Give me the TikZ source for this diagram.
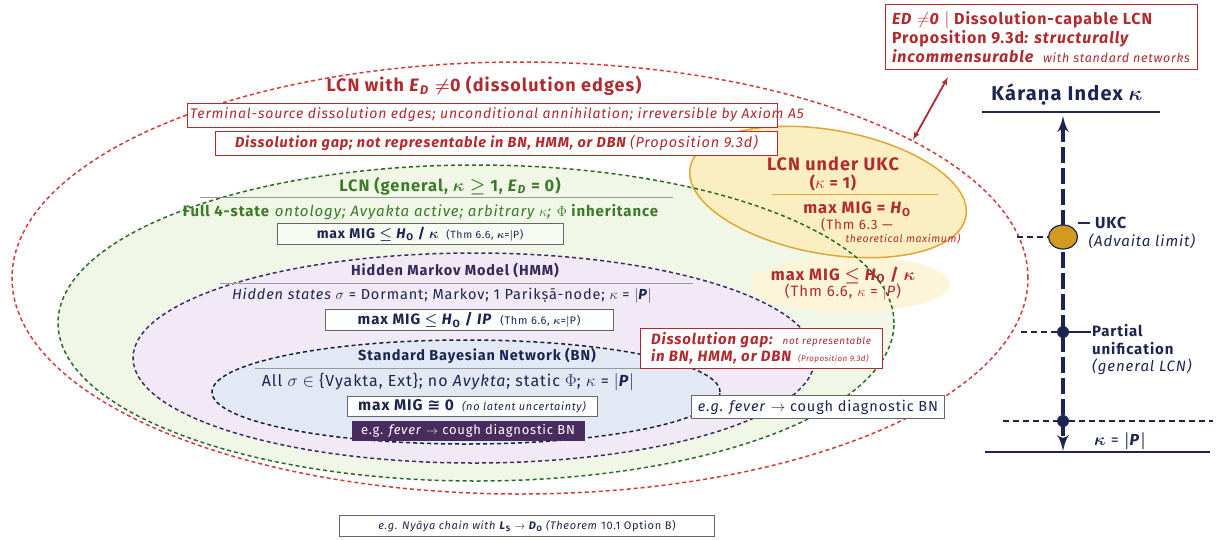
\documentclass[tikz,border=0pt]{standalone}
\usepackage{fontspec}
\setmainfont[LetterSpace=6]{Fira Sans}
\newfontfamily\symfont{DejaVu Sans}
\usetikzlibrary{shapes.geometric, arrows, positioning}

\definecolor{lcnred}{HTML}{B02A2E}
\definecolor{reddash}{HTML}{D23A3C}
\definecolor{lcngreen}{HTML}{3B7A2B}
\definecolor{greendash}{HTML}{2D6A2A}
\definecolor{greenfill}{HTML}{F1F7E6}
\definecolor{hmmfill}{HTML}{F1E9F5}
\definecolor{hmmdash}{HTML}{3E2A66}
\definecolor{hmmtext}{HTML}{33285A}
\definecolor{bnfill}{HTML}{E3E9F4}
\definecolor{navy}{HTML}{1C2552}
\definecolor{ukcfill}{HTML}{FBEFC2}
\definecolor{ukcedge}{HTML}{E2A632}
\definecolor{golddot}{HTML}{D49A1E}
\definecolor{exfill}{HTML}{4A2B5E}

\newcommand{\Hobs}{\textit{H}\textsubscript{O}}
\newcommand{\Edis}{\textit{E}\textsubscript{\textit{D}}}
\newcommand{\vbar}{$|$}
\newcommand{\fsz}[1]{\fontsize{#1}{#1}\selectfont}

\tikzstyle{big} = [font=\fsz{16}\bfseries\boldmath]
\tikzstyle{redbox} = [rectangle, draw=lcnred, line width=1pt, fill=white,
    text=lcnred, minimum height=24pt, inner xsep=6pt]
\tikzstyle{greybox} = [rectangle, draw=black!60, line width=1pt, fill=white,
    text=navy, minimum height=21pt, inner xsep=6pt, inner ysep=1pt]
\tikzstyle{rulestroke} = [draw=black!40, line width=0.8pt]
\tikzstyle{zone} = [dash pattern=on 4pt off 3pt, line width=1.5pt]
\tikzstyle{axis} = [draw=navy, line width=4.5pt, dash pattern=on 16pt off 5pt]
\tikzstyle{tick} = [draw=navy, line width=1.2pt, dash pattern=on 6pt off 4pt]
\tikzstyle{dot} = [circle, fill=navy, inner sep=0pt, minimum size=12pt]

\begin{document}
\begin{tikzpicture}[x=1pt, y=-1pt, node distance=17pt, auto]
\useasboundingbox (0,0) rectangle (1216,539);

\fill[greenfill] (476,323) ellipse [x radius=418pt, y radius=158pt];
\fill[hmmfill] (474,358) ellipse [x radius=341pt, y radius=105pt];
\fill[bnfill] (466,392) ellipse [x radius=254pt, y radius=52pt];
\fill[ukcfill!60] (850,284) ellipse [x radius=100pt, y radius=28pt];
\filldraw[fill=ukcfill, draw=ukcedge, line width=1.5pt, rotate around={-10:(828,192)}]
    (828,192) ellipse [x radius=140pt, y radius=62pt];

\draw[zone, reddash] (520,278) ellipse [x radius=508pt, y radius=216pt];
\draw[zone, greendash] (476,323) ellipse [x radius=418pt, y radius=158pt];
\draw[zone, hmmdash] (474,358) ellipse [x radius=341pt, y radius=105pt];
\draw[zone, navy!80!black] (466,392) ellipse [x radius=254pt, y radius=52pt];

\node [big, text=lcnred, font=\fsz{18}\bfseries\boldmath] (lcndis) at (484,86) {LCN with \Edis{} $\neq$0 (dissolution edges)};
\node [redbox, minimum width=590pt, anchor=west] (termbox) at (187,115) {};
\node [text=lcnred, font=\fsz{14}\itshape] (termtext) at (497,115)
    {Terminal-source dissolution edges; unconditional annihilation; irreversible by Axiom A5};
\node [redbox, minimum width=562pt, anchor=west, font=\fsz{14.5}\bfseries\itshape] (gapbox) at (215,143)
    {Dissolution gap; not representable in BN, HMM, or DBN {\mdseries(Proposition 9.3d)}};

\node [big, text=lcngreen, font=\fsz{16.5}\bfseries\boldmath] (lcngen) at (450,186) {LCN (general, $\kappa \geq$ 1, \Edis{} = 0)};
\path [rulestroke] (200,197) -- (673,197);
\node [text=lcngreen, font=\fsz{15}] (ontology) at (421,212)
    {\textbf{Full 4-state} \textit{ontology; Avyakta active; arbitrary $\kappa$;} \textbf{$\Phi$ inheritance}};
\node [greybox, fill=greenfill!50, minimum width=286pt, font=\fsz{14}\bfseries\boldmath] (migbox) at (420,234)
    {max MIG $\leq$ \Hobs{} / $\kappa$ {\mdseries\fsz{10.5} (Thm 6.6, $\kappa$=\vbar P)}};

\node [text=hmmtext, font=\fsz{14.5}\bfseries] (hmmtitle) at (455,270) {Hidden Markov Model (HMM)};
\path [rulestroke] (220,283) -- (693,283);
\node [text=navy, font=\fsz{14.5}] (hmmstates) at (442,296)
    {\textit{Hidden states $\sigma$} = Dormant; Markov; 1 Parikṣā-node; $\kappa$ = \vbar\textbf{\textit{P}}\vbar};
\node [greybox, minimum width=288pt, font=\fsz{15}\bfseries\boldmath] (hmmbox) at (469,320)
    {max MIG $\leq$ \Hobs{} / \textit{IP} {\mdseries\fsz{11} (Thm 6.6, $\kappa$=\vbar P)}};

\node [text=navy, font=\fsz{14.5}\bfseries] (bntitle) at (477,356) {Standard Bayesian Network (BN)};
\path [rulestroke] (255,368) -- (667,368);
\node [text=navy, font=\fsz{16}, inner ysep=1pt] (bnstates) at (448,382)
    {All $\sigma \in$ \{Vyakta, Ext\}; no \textit{Avykta}; static $\Phi$; $\kappa$ = \vbar\textbf{\textit{P}}\vbar};
\node [greybox, minimum width=250pt, minimum height=20pt, font=\fsz{15.5}\bfseries] (bnbox) at (472,406)
    {max MIG {\symfont ≅} 0 {\mdseries\itshape\fsz{11} (no latent uncertainty)}};
\node [rectangle, fill=exfill, text=white, font=\fsz{13}, minimum width=233pt, minimum height=20pt] (bnex) at (468,431)
    {e.g. \textit{fever} $\rightarrow$ cough diagnostic BN};

\node [redbox, minimum width=242pt, minimum height=40pt, align=left, inner ysep=2pt,
    font=\fontsize{15}{17}\selectfont\bfseries\itshape] (gapnote) at (761,348)
    {Dissolution gap: {\mdseries\fsz{10} not representable}\\
     in BN, HMM, or DBN {\mdseries\fsz{8} (Proposition 9.3d)}};
\node [greybox, minimum width=250pt, minimum height=23pt, font=\fsz{14.5}] (feverbox) at (818,407)
    {\textit{e.g. fever} $\rightarrow$ cough diagnostic BN};

\node [greybox, minimum width=375pt, minimum height=21pt, font=\fsz{11}] (nyaya) at (527,526)
    {\textit{e.g. Nyāya chain with} \textbf{\textit{L}\textsubscript{S}} $\rightarrow$ \textbf{\textit{D}\textsubscript{O}} \textit{(Theorem} 10.1 Option B)};

\node [text=lcnred, font=\fsz{18}\bfseries, inner sep=1pt] (ukctitle) at (833,164) {LCN under UKC};
\node [text=lcnred, font=\fsz{16}\bfseries, inner sep=1pt, below of=ukctitle, node distance=19pt] (ukckappa) {($\kappa$ = 1)};
\path [draw=ukcedge, line width=0.9pt] (772,194) -- (938,194);
\node [text=lcnred, font=\fsz{16.5}\bfseries, inner sep=1pt] (ukcmig) at (857,209) {max MIG = \Hobs};
\node [text=lcnred, font=\fsz{13.5}, inner sep=1pt, below of=ukcmig, node distance=16pt] (ukcthm) {(Thm 6.3 —};
\node [text=lcnred, font=\fsz{10.5}\itshape, inner sep=1pt] (ukcmax) at (903,239) {theoretical maximum)};
\node [text=lcnred, font=\fsz{16.5}\bfseries\boldmath] (ukcmig2) at (843,275) {max MIG $\leq$ \Hobs{} / $\kappa$};
\node [text=lcnred, font=\fsz{15}, below of=ukcmig2] (ukcthm2) {(Thm 6.6, $\kappa$ = \vbar\textit{P})};

\node [redbox, minimum width=312pt, minimum height=65pt, align=left,
    font=\fontsize{16}{19}\selectfont\bfseries] (edbox) at (1041,37)
    {\textit{ED} $\neq$\textit{0} \vbar{} Dissolution-capable LCN\\
     Proposition 9.3d\textit{: structurally}\\
     \textit{incommensurable} {\mdseries\itshape\fsz{12.5} with standard networks}};
\coordinate (arrtop) at (948,77);
\coordinate (arrbot) at (913,140);
\path [draw=lcnred, line width=1.8pt, latex'-latex'] (arrtop) -- (arrbot);

\node [text=navy, font=\fsz{20}\bfseries\boldmath] (idxlabel) at (1067,95) {Káraṇa Index $\kappa$};
\path [draw=navy, line width=1.2pt] (982,112) -- (1160,112);
\coordinate (axtop) at (1063,116);
\coordinate (axbot) at (1063,451);
\path [axis, latex'-latex'] (axtop) -- (axbot);
\path [draw=navy, line width=1.2pt] (985,452) -- (1210,452);

\coordinate (ukcleft) at (1017,237);
\coordinate (partleft) at (1021,332);
\coordinate (pleft) at (1003,421);
\coordinate (pright) at (1213,421);
\node [ellipse, fill=golddot, draw=navy, line width=1.2pt, minimum width=29pt, minimum height=24pt] (ukcdot) at (1063,237) {};
\node [dot] (partdot) at (1063,332) {};
\node [dot] (pdot) at (1063,421) {};
\path [tick] (ukcleft) -- (ukcdot);
\path [tick] (partleft) -- (partdot);
\path [tick] (pleft) -- (pdot) -- (pright);

\node [anchor=west, text=navy, font=\fsz{16}\bfseries] (ukclabel) at (1074,223) {— UKC};
\node [anchor=west, text=navy, font=\fsz{15}\itshape] (advaita) at (1085,241) {(Advaita limit)};
\node [anchor=west, text=navy, align=left, font=\fontsize{15}{17.5}\selectfont, inner sep=1pt] (partlabel) at (1091,350)
    {\textbf{Partial}\\ \textbf{unification}\\ \textit{(general LCN)}};
\path [draw=navy, line width=1.2pt] (partdot) -- (partlabel.west |- partdot);
\node [text=navy, font=\fsz{16}\boldmath] (plabel) at (1120,441) {$\kappa$ = \vbar\textbf{\textit{P}}\vbar};

\end{tikzpicture}
\end{document}
